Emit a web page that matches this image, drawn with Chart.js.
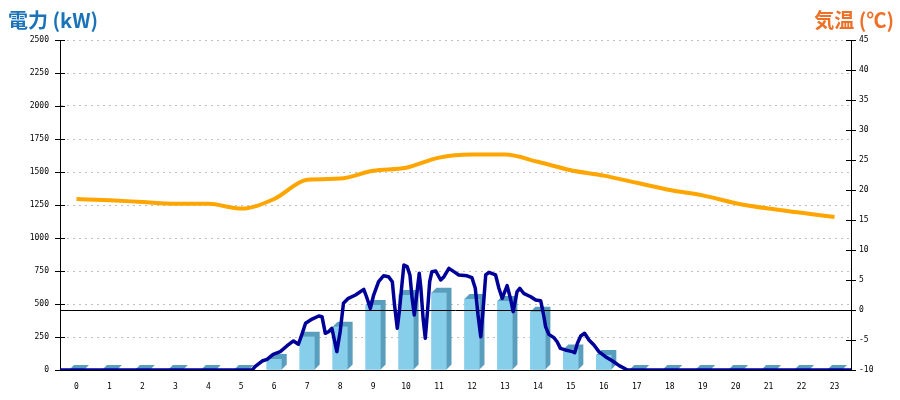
<!DOCTYPE html>
<html lang="ja">
<head>
<meta charset="utf-8">
<script src="https://cdn.jsdelivr.net/npm/chart.js@4"></script>
<style>
  html, body { margin: 0; padding: 0; background: #fff; }
  #wrap { position: relative; width: 900px; height: 400px; }
  .title {
    position: absolute; top: 5px; line-height: 1;
    font: bold 20px "Noto Sans CJK JP", sans-serif;
  }
  #titleLeft { left: 8px; color: #1a72b8; }
  #titleRight { right: 6px; color: #ee7027; }
</style>
</head>
<body>
<div id="wrap">
  <canvas id="chart" width="900" height="400"></canvas>
  <div class="title" id="titleLeft">電力 (kW)</div>
  <div class="title" id="titleRight">気温 (℃)</div>
</div>
<script>
// 時間帯
const hours = ["0","1","2","3","4","5","6","7","8","9","10","11","12","13","14","15","16","17","18","19","20","21","22","23"];
// 1時間ごとの電力 (kW)
const powerHourly = [0, 0, 0, 0, 0, 0, 83, 252, 327, 492, 568, 586, 538, 523, 442, 155, 114, 0, 0, 0, 0, 0, 0, 0];
// 気温 (℃)
const temperature = [18.5, 18.3, 18.0, 17.7, 17.7, 16.9, 18.5, 21.7, 21.9, 23.2, 23.7, 25.4, 25.9, 25.9, 24.7, 23.3, 22.4, 21.2, 20.0, 19.1, 17.8, 16.9, 16.2, 15.5];
// 瞬時電力: 時刻 (0時からの分) と kW
const powerMinutes = [0, 350, 355, 368, 377, 388, 401, 413, 425, 434, 441, 447, 459, 471, 477, 483, 489, 495, 504, 510, 516, 525, 538, 553, 558, 565, 571, 580, 589, 598, 605, 609, 614, 618, 623, 626, 632, 637, 641, 645, 650, 654, 657, 661, 665, 669, 673, 677, 684, 693, 699, 708, 717, 726, 741, 750, 756, 761, 766, 770, 775, 781, 793, 799, 805, 814, 820, 825, 832, 837, 844, 857, 866, 875, 878, 881, 884, 890, 899, 905, 911, 920, 933, 937, 942, 948, 955, 963, 972, 981, 993, 1006, 1018, 1033, 1440];
const powerKw = [0, 0, 25, 68, 81, 119, 139, 182, 220, 195, 278, 354, 386, 409, 404, 278, 290, 316, 139, 290, 505, 543, 568, 611, 555, 467, 568, 669, 714, 707, 669, 492, 316, 455, 669, 795, 783, 720, 543, 417, 593, 733, 619, 392, 240, 442, 669, 745, 750, 682, 707, 770, 745, 720, 714, 699, 619, 417, 252, 442, 720, 740, 720, 619, 543, 639, 543, 442, 593, 619, 581, 555, 530, 525, 467, 404, 328, 270, 245, 214, 164, 152, 139, 131, 202, 258, 278, 227, 189, 139, 101, 68, 33, 0, 0];

const FRONT = "rgb(135,206,235)";
const SIDE = "rgb(90,158,189)";

// 棒の側面と上面 + 0℃ライン
const bar3d = {
  id: "bar3d",
  afterDatasetDraw(chart, args) {
    if (args.meta.type !== "bar") return;
    const ctx = chart.ctx;
    const d = 5;
    ctx.save();
    ctx.fillStyle = SIDE;
    args.meta.data.forEach((bar) => {
      const { x, y, base, width } = bar.getProps(["x", "y", "base", "width"], true);
      const l = x - width / 2;
      const r = x + width / 2;
      ctx.beginPath();
      ctx.moveTo(l, y);
      ctx.lineTo(l + d, y - d);
      ctx.lineTo(r + d, y - d);
      ctx.lineTo(r + d, base - d);
      ctx.lineTo(r, base);
      ctx.lineTo(r, y);
      ctx.closePath();
      ctx.fill();
    });
    const y0 = Math.round(chart.scales.y2.getPixelForValue(0)) + 0.5;
    ctx.strokeStyle = "#000";
    ctx.lineWidth = 1;
    ctx.beginPath();
    ctx.moveTo(chart.chartArea.left, y0);
    ctx.lineTo(chart.chartArea.right, y0);
    ctx.stroke();
    ctx.restore();
  },
};

// 軸をまたぐ目盛り線
const crossTicks = {
  id: "crossTicks",
  afterDraw(chart) {
    const ctx = chart.ctx;
    ctx.save();
    ctx.strokeStyle = "#000";
    ctx.lineWidth = 1;
    ["y", "y2"].forEach((id) => {
      const s = chart.scales[id];
      const ax = id === "y" ? s.right : s.left;
      s.ticks.forEach((t, i) => {
        const py = Math.round(s.getPixelForTick(i)) + 0.5;
        ctx.beginPath();
        ctx.moveTo(ax - 5, py);
        ctx.lineTo(ax + 5, py);
        ctx.stroke();
      });
    });
    ctx.restore();
  },
};

Chart.defaults.font.family = "'DejaVu Sans Mono', monospace";
Chart.defaults.font.size = 8;
Chart.defaults.color = "#000";

const plain = (v) => String(v);

new Chart(document.getElementById("chart"), {
  data: {
    labels: hours,
    datasets: [
      {
        type: "line",
        label: "気温",
        data: temperature,
        yAxisID: "y2",
        borderColor: "#ffa500",
        borderWidth: 4,
        pointRadius: 0,
        cubicInterpolationMode: "monotone",
        order: 1,
      },
      {
        type: "line",
        label: "瞬時電力",
        data: powerMinutes.map((m, i) => ({ x: m, y: powerKw[i] })),
        xAxisID: "x2",
        yAxisID: "y",
        borderColor: "#000099",
        borderWidth: 3.5,
        borderJoinStyle: "round",
        borderCapStyle: "round",
        pointRadius: 0,
        tension: 0,
        order: 2,
      },
      {
        type: "bar",
        label: "電力",
        data: powerHourly,
        xAxisID: "x",
        yAxisID: "y",
        backgroundColor: FRONT,
        grouped: false,
        barThickness: 15,
        maxBarThickness: 15,
        order: 3,
      },
    ],
  },
  options: {
    responsive: false,
    animation: false,
    layout: { padding: { top: 40, left: 0, right: 0, bottom: 0 } },
    plugins: { legend: { display: false }, tooltip: { enabled: false } },
    scales: {
      x: {
        type: "category",
        offset: true,
        grid: { display: false },
        border: { color: "#000", width: 1 },
        ticks: { padding: 4, maxRotation: 0, autoSkip: false },
        afterFit: (s) => { s.height = 30; },
      },
      x2: {
        type: "linear",
        display: false,
        min: 0,
        max: 1440,
      },
      y: {
        position: "left",
        min: 0,
        max: 2500,
        ticks: { stepSize: 250, padding: 11, callback: plain },
        grid: { color: "#c0c0c0", drawTicks: false },
        border: { color: "#000", dash: [2, 4] },
        afterFit: (s) => { s.width = 60; },
      },
      y2: {
        position: "right",
        min: -10,
        max: 45,
        ticks: { stepSize: 5, padding: 8, callback: plain },
        grid: { display: false, drawTicks: false },
        border: { color: "#000" },
        afterFit: (s) => { s.width = 49; },
      },
    },
  },
  plugins: [bar3d, crossTicks],
});
</script>
</body>
</html>
